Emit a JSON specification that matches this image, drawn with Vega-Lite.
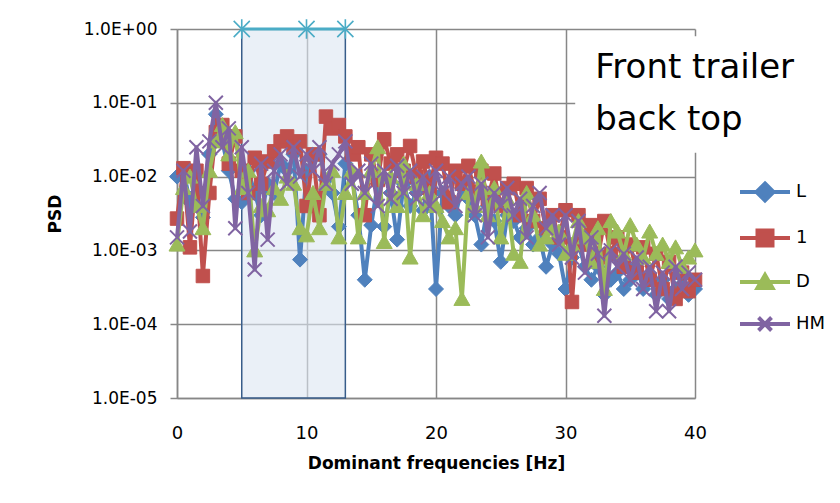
{
  "$schema": "https://vega.github.io/schema/vega-lite/v6.json",
  "width": 518,
  "height": 369,
  "autosize": {"type": "none"},
  "padding": {"left": 177, "top": 29, "right": 145, "bottom": 105},
  "background": "white",
  "config": {"view": {"stroke": null}, "font": "DejaVu Sans"},
  "datasets": {
    "psd": [
      {"f":0,"L":0.010,"1":0.0027,"D":0.0012,"HM":0.0015},
      {"f":0.5,"L":0.012,"1":0.013,"D":0.007,"HM":0.012},
      {"f":1,"L":0.0045,"1":0.0011,"D":0.01,"HM":0.0018},
      {"f":1.5,"L":0.006,"1":0.012,"D":0.004,"HM":0.025},
      {"f":2,"L":0.0028,"1":0.00045,"D":0.002,"HM":0.004},
      {"f":2.5,"L":0.02,"1":0.006,"D":0.012,"HM":0.03},
      {"f":3,"L":0.07,"1":0.04,"D":0.03,"HM":0.1},
      {"f":3.5,"L":0.03,"1":0.05,"D":0.05,"HM":0.025},
      {"f":4,"L":0.012,"1":0.015,"D":0.02,"HM":0.045},
      {"f":4.5,"L":0.005,"1":0.035,"D":0.04,"HM":0.002},
      {"f":5,"L":0.0045,"1":0.012,"D":0.007,"HM":0.025},
      {"f":5.5,"L":0.012,"1":0.006,"D":0.012,"HM":0.006},
      {"f":6,"L":0.006,"1":0.018,"D":0.001,"HM":0.00055},
      {"f":6.5,"L":0.003,"1":0.008,"D":0.004,"HM":0.015},
      {"f":7,"L":0.008,"1":0.016,"D":0.0035,"HM":0.0014},
      {"f":7.5,"L":0.006,"1":0.022,"D":0.007,"HM":0.012},
      {"f":8,"L":0.015,"1":0.03,"D":0.005,"HM":0.02},
      {"f":8.5,"L":0.012,"1":0.035,"D":0.01,"HM":0.008},
      {"f":9,"L":0.02,"1":0.025,"D":0.008,"HM":0.025},
      {"f":9.5,"L":0.00075,"1":0.03,"D":0.002,"HM":0.01},
      {"f":10,"L":0.012,"1":0.004,"D":0.0016,"HM":0.02},
      {"f":10.5,"L":0.018,"1":0.02,"D":0.006,"HM":0.012},
      {"f":11,"L":0.02,"1":0.003,"D":0.002,"HM":0.025},
      {"f":11.5,"L":0.009,"1":0.065,"D":0.008,"HM":0.008},
      {"f":12,"L":0.006,"1":0.045,"D":0.012,"HM":0.015},
      {"f":12.5,"L":0.0021,"1":0.05,"D":0.0015,"HM":0.02},
      {"f":13,"L":0.015,"1":0.035,"D":0.006,"HM":0.03},
      {"f":13.5,"L":0.01,"1":0.02,"D":0.012,"HM":0.008},
      {"f":14,"L":0.003,"1":0.025,"D":0.0015,"HM":0.012},
      {"f":14.5,"L":0.0004,"1":0.003,"D":0.006,"HM":0.006},
      {"f":15,"L":0.0022,"1":0.02,"D":0.012,"HM":0.015},
      {"f":15.5,"L":0.008,"1":0.009,"D":0.025,"HM":0.004},
      {"f":16,"L":0.0021,"1":0.032,"D":0.0013,"HM":0.012},
      {"f":16.5,"L":0.006,"1":0.015,"D":0.01,"HM":0.005},
      {"f":17,"L":0.0014,"1":0.02,"D":0.004,"HM":0.014},
      {"f":17.5,"L":0.008,"1":0.012,"D":0.015,"HM":0.006},
      {"f":18,"L":0.004,"1":0.026,"D":0.0008,"HM":0.012},
      {"f":18.5,"L":0.006,"1":0.01,"D":0.008,"HM":0.005},
      {"f":19,"L":0.0035,"1":0.016,"D":0.003,"HM":0.01},
      {"f":19.5,"L":0.01,"1":0.007,"D":0.006,"HM":0.004},
      {"f":20,"L":0.0003,"1":0.018,"D":0.004,"HM":0.012},
      {"f":20.5,"L":0.006,"1":0.015,"D":0.0025,"HM":0.006},
      {"f":21,"L":0.004,"1":0.0045,"D":0.0015,"HM":0.01},
      {"f":21.5,"L":0.003,"1":0.012,"D":0.002,"HM":0.004},
      {"f":22,"L":0.007,"1":0.008,"D":0.00022,"HM":0.008},
      {"f":22.5,"L":0.005,"1":0.014,"D":0.006,"HM":0.01},
      {"f":23,"L":0.003,"1":0.006,"D":0.004,"HM":0.003},
      {"f":23.5,"L":0.0012,"1":0.012,"D":0.016,"HM":0.008},
      {"f":24,"L":0.004,"1":0.005,"D":0.003,"HM":0.0015},
      {"f":24.5,"L":0.0025,"1":0.011,"D":0.007,"HM":0.006},
      {"f":25,"L":0.0007,"1":0.004,"D":0.0015,"HM":0.004},
      {"f":25.5,"L":0.003,"1":0.007,"D":0.005,"HM":0.007},
      {"f":26,"L":0.0025,"1":0.008,"D":0.0009,"HM":0.003},
      {"f":26.5,"L":0.0015,"1":0.003,"D":0.0007,"HM":0.005},
      {"f":27,"L":0.002,"1":0.007,"D":0.006,"HM":0.0015},
      {"f":27.5,"L":0.0012,"1":0.0025,"D":0.003,"HM":0.004},
      {"f":28,"L":0.0015,"1":0.005,"D":0.0012,"HM":0.006},
      {"f":28.5,"L":0.0006,"1":0.002,"D":0.0015,"HM":0.002},
      {"f":29,"L":0.0012,"1":0.003,"D":0.002,"HM":0.003},
      {"f":29.5,"L":0.0009,"1":0.0015,"D":0.0018,"HM":0.0012},
      {"f":30,"L":0.0003,"1":0.0035,"D":0.0009,"HM":0.003},
      {"f":30.5,"L":0.0008,"1":0.0002,"D":0.0012,"HM":0.0008},
      {"f":31,"L":0.0012,"1":0.003,"D":0.0025,"HM":0.0025},
      {"f":31.5,"L":0.0006,"1":0.0012,"D":0.0015,"HM":0.0005},
      {"f":32,"L":0.0004,"1":0.0022,"D":0.0007,"HM":0.0015},
      {"f":32.5,"L":0.0006,"1":0.0008,"D":0.002,"HM":0.0009},
      {"f":33,"L":0.00025,"1":0.0025,"D":0.0003,"HM":0.00013},
      {"f":33.5,"L":0.0004,"1":0.0009,"D":0.0025,"HM":0.001},
      {"f":34,"L":0.0005,"1":0.0015,"D":0.0018,"HM":0.0006},
      {"f":34.5,"L":0.0003,"1":0.0006,"D":0.0009,"HM":0.0009},
      {"f":35,"L":0.0004,"1":0.0012,"D":0.0022,"HM":0.0004},
      {"f":35.5,"L":0.0006,"1":0.0005,"D":0.0012,"HM":0.0008},
      {"f":36,"L":0.0003,"1":0.0011,"D":0.0008,"HM":0.0003},
      {"f":36.5,"L":0.00045,"1":0.0004,"D":0.0018,"HM":0.0006},
      {"f":37,"L":0.00025,"1":0.0009,"D":0.0009,"HM":0.00015},
      {"f":37.5,"L":0.0004,"1":0.0003,"D":0.0012,"HM":0.0005},
      {"f":38,"L":0.00022,"1":0.0007,"D":0.0007,"HM":0.00015},
      {"f":38.5,"L":0.0003,"1":0.00022,"D":0.0011,"HM":0.0006},
      {"f":39,"L":0.00035,"1":0.0005,"D":0.0006,"HM":0.0003},
      {"f":39.5,"L":0.00025,"1":0.00028,"D":0.0008,"HM":0.0005},
      {"f":40,"L":0.0003,"1":0.0004,"D":0.001,"HM":0.0004}
    ],
    "band": [{"f":5,"f2":13,"v":0.00001,"v2":1}],
    "mask": [{"f":30.75,"f2":40.6,"v":0.021,"v2":0.8}],
    "peaks": [{"f":5,"v":1},{"f":10,"v":1},{"f":13,"v":1}],
    "note": [{"f":32.3,"v":0.217,"t":"Front trailer"},{"f":32.3,"v":0.0428,"t":"back top"}]
  },
  "encoding": {
    "x": {
      "field": "f", "type": "quantitative",
      "scale": {"domain": [0, 40], "nice": false, "zero": false},
      "axis": {
        "values": [0, 10, 20, 30, 40], "title": "Dominant frequencies [Hz]",
        "grid": true, "gridColor": "#878787", "gridWidth": 1.5,
        "domainColor": "#878787", "domainWidth": 1.5, "ticks": false,
        "labelFontSize": 18, "labelColor": "#000", "labelPadding": 26, "labelFlush": false, "labelOverlap": false,
        "titleFontSize": 17, "titleFontWeight": "bold", "titleColor": "#000", "titlePadding": 13
      }
    },
    "y": {
      "field": "v", "type": "quantitative",
      "scale": {"type": "log", "domain": [0.00001, 1], "nice": false},
      "axis": {
        "values": [0.00001, 0.0001, 0.001, 0.01, 0.1, 1], "title": "PSD",
        "labelExpr": "datum.value >= 1 ? '1.0E+00' : '1.0E-0' + round(-log(datum.value)/LN10)",
        "grid": true, "gridColor": "#878787", "gridWidth": 1.5,
        "domainColor": "#878787", "domainWidth": 1.5,
        "tickSize": 7, "tickColor": "#878787", "tickWidth": 1.5,
        "labelFontSize": 17, "labelColor": "#000", "labelPadding": 13, "labelFlush": false, "labelOverlap": false,
        "titleFontSize": 17, "titleFontWeight": "bold", "titleColor": "#000", "titlePadding": 19
      }
    }
  },
  "layer": [
    {
      "data": {"name": "band"},
      "mark": {"type": "rect", "fill": "#dce6f2", "fillOpacity": 0.6, "stroke": "#385d8a", "strokeWidth": 1.5},
      "encoding": {"x2": {"field": "f2"}, "y2": {"field": "v2"}}
    },
    {
      "data": {"name": "mask"},
      "mark": {"type": "rect", "fill": "white", "strokeWidth": 0},
      "encoding": {"x2": {"field": "f2"}, "y2": {"field": "v2"}}
    },
    {
      "data": {"name": "peaks"},
      "mark": {"type": "line", "stroke": "#4BACC6", "strokeWidth": 3},
      "encoding": {}
    },
    {
      "data": {"name": "peaks"},
      "mark": {"type": "point", "filled": false, "stroke": "#4BACC6", "strokeWidth": 1.6, "opacity": 1,
               "shape": "M-1,-1L1,1M-1,1L1,-1M0,-1.2V1.2"},
      "encoding": {"size": {"value": 260}}
    },
    {
      "data": {"name": "psd"},
      "transform": [{"fold": ["L", "1", "D", "HM"], "as": ["s", "v"]}, {"filter": "datum.s === 'L'"}],
      "mark": {"type": "line", "strokeWidth": 4, "strokeJoin": "round"},
      "encoding": {"color": {"field": "s", "type": "nominal",
        "scale": {"domain": ["L", "1", "D", "HM"], "range": ["#4F81BD", "#C0504D", "#9BBB59", "#8064A2"]},
        "legend": {"title": null, "orient": "none", "legendX": 579, "legendY": 154, "padding": 0,
          "symbolSize": 100, "labelFontSize": 18, "labelColor": "#000", "rowPadding": 13, "labelOffset": 22,
          "symbolStrokeWidth": 4,
          "encode": {"symbols": {"update": {
            "shape": {"signal": "datum.value === 'L' ? 'M-5,0H5M0,-1.7L1.7,0L0,1.7L-1.7,0Z' : datum.value === '1' ? 'M-5,0H5M-1.5,-1.5H1.5V1.5H-1.5Z' : datum.value === 'D' ? 'M-5,0H5M0,-1.4L1.5,1.2H-1.5Z' : 'M-5,0H5M-1.3,-1.3L1.3,1.3M-1.3,1.3L1.3,-1.3'"},
            "fill": {"signal": "datum.value === 'L' ? '#4F81BD' : datum.value === '1' ? '#C0504D' : datum.value === 'D' ? '#9BBB59' : '#8064A2'"},
            "stroke": {"signal": "datum.value === 'L' ? '#4F81BD' : datum.value === '1' ? '#C0504D' : datum.value === 'D' ? '#9BBB59' : '#8064A2'"},
            "strokeWidth": {"value": 4},
            "opacity": {"value": 1}
          }}}
        }}}
    },
    {
      "data": {"name": "psd"},
      "transform": [{"fold": ["L", "1", "D", "HM"], "as": ["s", "v"]}, {"filter": "datum.s === 'L'"}],
      "mark": {"type": "point", "filled": true, "fill": "#4F81BD", "stroke": "#4F81BD", "strokeWidth": 1, "opacity": 1, "size": 100,
               "shape": "M0,-1.5L1.5,0L0,1.5L-1.5,0Z"},
      "encoding": {}
    },
    {
      "data": {"name": "psd"},
      "transform": [{"fold": ["L", "1", "D", "HM"], "as": ["s", "v"]}, {"filter": "datum.s === '1'"}],
      "mark": {"type": "line", "strokeWidth": 4, "strokeJoin": "round"},
      "encoding": {"color": {"field": "s", "type": "nominal",
        "scale": {"domain": ["L", "1", "D", "HM"], "range": ["#4F81BD", "#C0504D", "#9BBB59", "#8064A2"]}}}
    },
    {
      "data": {"name": "psd"},
      "transform": [{"fold": ["L", "1", "D", "HM"], "as": ["s", "v"]}, {"filter": "datum.s === '1'"}],
      "mark": {"type": "point", "filled": true, "fill": "#C0504D", "stroke": "#C0504D", "strokeWidth": 1, "opacity": 1, "size": 100,
               "shape": "M-1.35,-1.35H1.35V1.35H-1.35Z"},
      "encoding": {}
    },
    {
      "data": {"name": "psd"},
      "transform": [{"fold": ["L", "1", "D", "HM"], "as": ["s", "v"]}, {"filter": "datum.s === 'D'"}],
      "mark": {"type": "line", "strokeWidth": 4, "strokeJoin": "round"},
      "encoding": {"color": {"field": "s", "type": "nominal",
        "scale": {"domain": ["L", "1", "D", "HM"], "range": ["#4F81BD", "#C0504D", "#9BBB59", "#8064A2"]}}}
    },
    {
      "data": {"name": "psd"},
      "transform": [{"fold": ["L", "1", "D", "HM"], "as": ["s", "v"]}, {"filter": "datum.s === 'D'"}],
      "mark": {"type": "point", "filled": true, "fill": "#9BBB59", "stroke": "#9BBB59", "strokeWidth": 1, "opacity": 1, "size": 100,
               "shape": "M0,-1.5L1.6,1.3H-1.6Z"},
      "encoding": {}
    },
    {
      "data": {"name": "psd"},
      "transform": [{"fold": ["L", "1", "D", "HM"], "as": ["s", "v"]}, {"filter": "datum.s === 'HM'"}],
      "mark": {"type": "line", "strokeWidth": 4, "strokeJoin": "round"},
      "encoding": {"color": {"field": "s", "type": "nominal",
        "scale": {"domain": ["L", "1", "D", "HM"], "range": ["#4F81BD", "#C0504D", "#9BBB59", "#8064A2"]}}}
    },
    {
      "data": {"name": "psd"},
      "transform": [{"fold": ["L", "1", "D", "HM"], "as": ["s", "v"]}, {"filter": "datum.s === 'HM'"}],
      "mark": {"type": "point", "filled": false, "stroke": "#8064A2", "strokeWidth": 2, "opacity": 1, "size": 100,
               "shape": "M-1.4,-1.4L1.4,1.4M-1.4,1.4L1.4,-1.4"},
      "encoding": {}
    },
    {
      "data": {"name": "note"},
      "mark": {"type": "text", "align": "left", "baseline": "alphabetic", "fontSize": 34, "color": "#000"},
      "encoding": {"text": {"field": "t"}}
    }
  ]
}
